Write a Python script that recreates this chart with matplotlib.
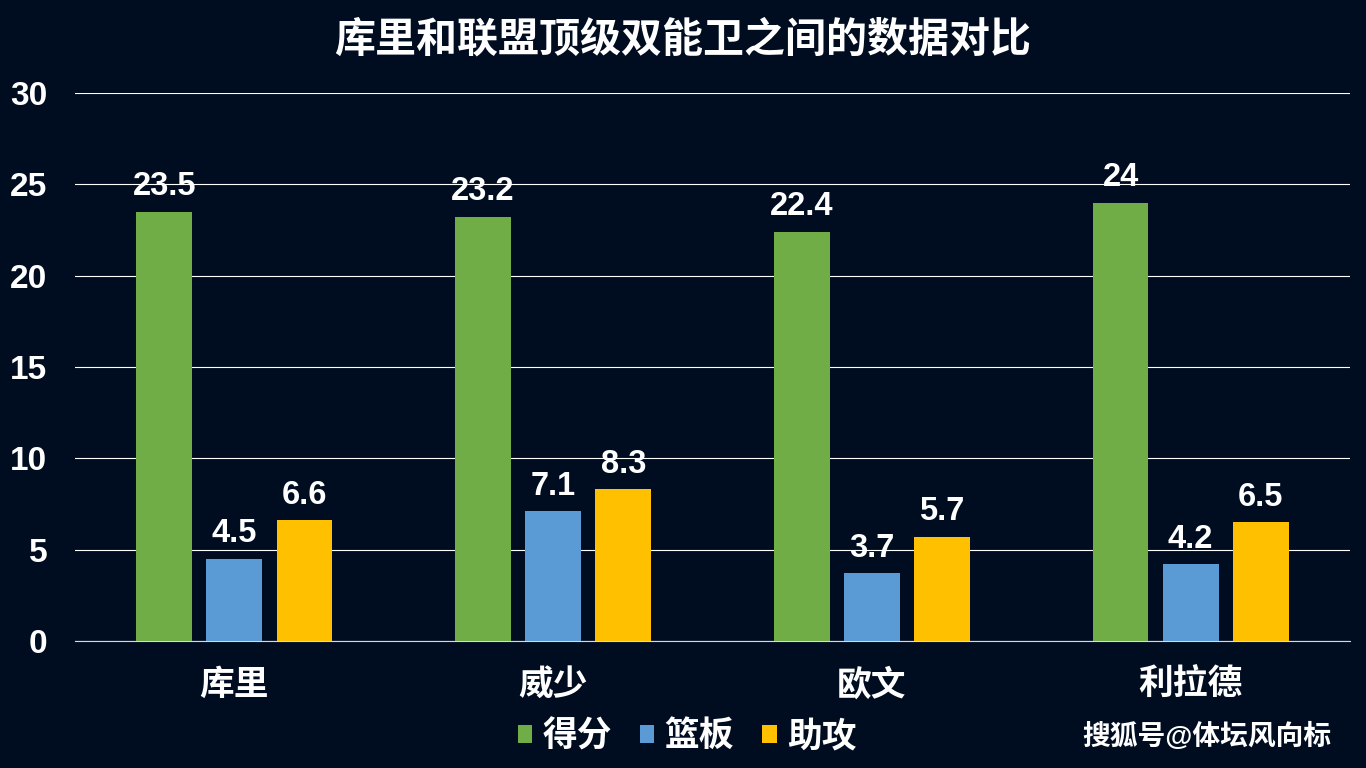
import matplotlib.pyplot as plt
import numpy as np

players = ["库里", "威少", "欧文", "利拉德"]
points = [23.5, 23.2, 22.4, 24]
rebounds = [4.5, 7.1, 3.7, 4.2]
assists = [6.6, 8.3, 5.7, 6.5]
series_names = ["得分", "篮板", "助攻"]

plt.rcParams['font.family'] = ['Liberation Sans', 'Noto Sans CJK SC', 'DejaVu Sans']
plt.rcParams['font.weight'] = 'bold'

bg = '#000d21'
colors = ['#70ad47', '#5b9bd5', '#ffc000']

fig = plt.figure(figsize=(13.66, 7.68), dpi=100, facecolor=bg)
ax = fig.add_axes([0.0549, 0.1654, 0.9334, 0.7135], facecolor=bg)

x = np.arange(len(players))
width = 0.175
step = 0.22
for i, (vals, name) in enumerate(zip([points, rebounds, assists], series_names)):
    pos = x + (i - 1) * step
    bars = ax.bar(pos, vals, width, color=colors[i], label=name, zorder=3)
    for b, v in zip(bars, vals):
        ax.annotate(f"{v:g}", (b.get_x() + b.get_width() / 2, v),
                    xytext=(0, 7), textcoords='offset points',
                    ha='center', va='bottom', color='white',
                    fontsize=23.5, fontweight='bold')

ax.set_xlim(-0.5, 3.5)
ax.set_ylim(0, 30)
ax.set_yticks(range(0, 31, 5))
ax.yaxis.grid(True, color='white', linewidth=0.8, zorder=0)
ax.set_axisbelow(True)
for s in ['top', 'right', 'left']:
    ax.spines[s].set_visible(False)
ax.spines['bottom'].set_color('#d9d9d9')
ax.tick_params(axis='both', length=0, colors='white')
ax.tick_params(axis='y', labelsize=24, pad=20)
ax.set_xticks(x)
ax.set_xticklabels(players, fontsize=25, fontweight='bold', color='white')
ax.tick_params(axis='x', pad=20)
for lbl in ax.get_yticklabels():
    lbl.set_fontweight('bold')

fig.text(0.5, 0.948, "库里和联盟顶级双能卫之间的数据对比", ha='center', va='center',
         color='white', fontsize=29.5, fontweight='bold')

leg = fig.legend(loc='center', bbox_to_anchor=(0.503, 0.041), ncol=3, frameon=False,
                 fontsize=25, handlelength=0.42, handleheight=0.42, handletextpad=0.3,
                 columnspacing=0.8, labelcolor='white')
for t in leg.get_texts():
    t.set_fontweight('bold')

fig.text(0.975, 0.041, "搜狐号@体坛风向标", ha='right', va='center', color='white',
         fontsize=20, fontweight='bold')

fig.savefig("out.png", dpi=100, facecolor=bg)
